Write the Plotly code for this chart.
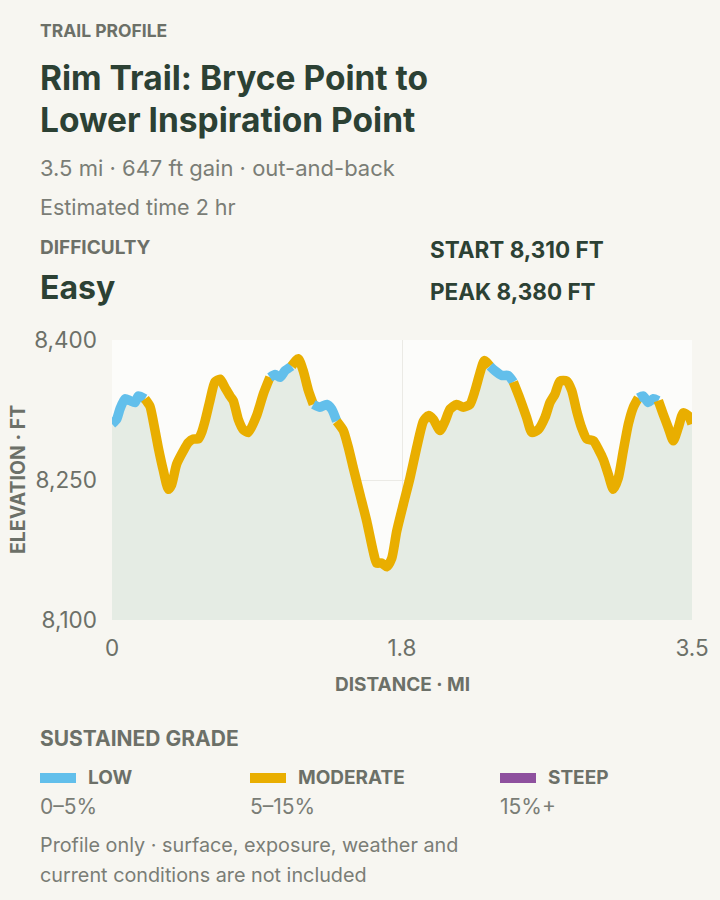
import plotly.graph_objects as go

# ---------------- data ----------------
distance_mi = [0.000, 0.028, 0.048, 0.078, 0.109, 0.139, 0.159, 0.199, 0.229, 0.249,
               0.279, 0.310, 0.340, 0.360, 0.390, 0.430, 0.460, 0.491, 0.521, 0.541,
               0.561, 0.591, 0.621, 0.652, 0.682, 0.712, 0.732, 0.762, 0.792, 0.823,
               0.873, 0.913, 0.953, 0.984, 1.014, 1.044, 1.084, 1.124, 1.154, 1.185,
               1.215, 1.255, 1.296, 1.326, 1.356, 1.396, 1.426, 1.456, 1.497, 1.537,
               1.577, 1.597, 1.627, 1.658, 1.688, 1.718, 1.758, 1.798, 1.839, 1.879,
               1.909, 1.939, 1.979, 2.010, 2.040, 2.080, 2.120, 2.160, 2.191, 2.221,
               2.247, 2.281, 2.311, 2.352, 2.391, 2.422, 2.462, 2.502, 2.533, 2.573,
               2.613, 2.643, 2.673, 2.703, 2.744, 2.774, 2.804, 2.834, 2.865, 2.905,
               2.935, 2.965, 2.995, 3.025, 3.055, 3.085, 3.116, 3.146, 3.176, 3.206,
               3.236, 3.266, 3.297, 3.327, 3.357, 3.387, 3.417, 3.447, 3.478, 3.500]
elevation_ft = [8310, 8315, 8326, 8337, 8335, 8333, 8340, 8337, 8329, 8313,
                8285, 8260, 8240, 8245, 8267, 8281, 8290, 8294, 8294, 8301,
                8313, 8335, 8355, 8358, 8349, 8340, 8335, 8315, 8304, 8301,
                8319, 8342, 8360, 8363, 8360, 8367, 8372, 8380, 8367, 8346,
                8331, 8328, 8331, 8326, 8313, 8303, 8285, 8263, 8234, 8206,
                8173, 8161, 8161, 8157, 8166, 8195, 8224, 8252, 8285, 8313,
                8319, 8315, 8303, 8313, 8326, 8331, 8328, 8331, 8346, 8365,
                8378, 8372, 8367, 8362, 8362, 8355, 8337, 8317, 8301, 8304,
                8317, 8333, 8342, 8356, 8356, 8346, 8324, 8306, 8294, 8292,
                8283, 8272, 8256, 8240, 8252, 8281, 8310, 8328, 8338, 8340,
                8333, 8337, 8335, 8320, 8306, 8292, 8306, 8322, 8319, 8310]
low_grade_ranges_mi = [(0.0, 0.20), (0.966, 1.086), (1.225, 1.346), (2.293, 2.420), (3.186, 3.294)]

y_tickvals = [8100, 8250, 8400]
x_tickvals = [0, 1.75, 3.5]
x_ticktext = ["0", "1.8", "3.5"]

grade_names = ["LOW", "MODERATE", "STEEP"]
grade_ranges = ["0–5%", "5–15%", "15%+"]
grade_colors = ["#62bfeb", "#e9ae00", "#8e509e"]

# ---------------- style ----------------
FONT = "Inter, 'Noto Sans', sans-serif"
DARK = "#2c4134"
GRAY = "#6c7068"
LIGHTGRAY = "#7a7d76"
PAGE_BG = "#f7f6f1"
PLOT_BG = "#fcfcfa"
FILL = "#e5ece4"

W, H = 720, 900
L, R, T, B = 112, 692, 340, 620


def px(xp):
    return (xp - L) / (R - L)


def py(yp):
    return (B - yp) / (B - T)


fig = go.Figure()

# area under the profile
fig.add_trace(go.Scatter(x=distance_mi, y=elevation_ft, mode="lines",
                         line=dict(width=0), fill="tozeroy", fillcolor=FILL,
                         hoverinfo="skip", showlegend=False))


def is_low(d):
    return any(a <= d <= b for a, b in low_grade_ranges_mi)


# split the line into runs coloured by sustained grade
runs = []
cur_cls, cur_x, cur_y = None, [], []
for i in range(len(distance_mi) - 1):
    mid = (distance_mi[i] + distance_mi[i + 1]) / 2
    cls = 0 if is_low(mid) else 1
    if cls != cur_cls:
        if cur_cls is not None:
            runs.append((cur_cls, cur_x, cur_y))
        cur_cls, cur_x, cur_y = cls, [distance_mi[i]], [elevation_ft[i]]
    cur_x.append(distance_mi[i + 1])
    cur_y.append(elevation_ft[i + 1])
runs.append((cur_cls, cur_x, cur_y))

for cls, xs, ys in runs:
    fig.add_trace(go.Scatter(x=xs, y=ys, mode="lines",
                             line=dict(color=grade_colors[cls], width=9.5, shape="spline", smoothing=0.6),
                             hoverinfo="skip", showlegend=False))

ann = []


def text(x, y, s, size, color, bold=False, anchor="left", angle=0):
    ann.append(dict(x=px(x), y=py(y), xref="paper", yref="paper", text=s, showarrow=False,
                    xanchor=anchor, yanchor="middle", textangle=angle,
                    font=dict(family=FONT, size=size, color=color, weight=700 if bold else 400)))


X0 = 38
text(X0, 30, "TRAIL PROFILE", 17.5, GRAY, True)
text(X0, 78, "Rim Trail: Bryce Point to", 33.5, DARK, True)
text(X0, 120, "Lower Inspiration Point", 33.5, DARK, True)
text(X0, 168, "3.5 mi · 647 ft gain · out-and-back", 22, LIGHTGRAY)
text(X0, 207, "Estimated time 2 hr", 21.5, LIGHTGRAY)
text(X0, 247, "DIFFICULTY", 19, GRAY, True)
text(X0, 287, "Easy", 32, DARK, True)
text(428, 249, "START 8,310 FT", 22.5, DARK, True)
text(428, 291, "PEAK 8,380 FT", 22.5, DARK, True)
text(402, 684, "DISTANCE · MI", 19, GRAY, True, anchor="center")
text(18, 480, "ELEVATION · FT", 19.5, GRAY, True, anchor="center", angle=-90)
text(X0, 738, "SUSTAINED GRADE", 21, GRAY, True)

shapes = []
legend_x = [40, 250, 500]
for i, (name, rng, col) in enumerate(zip(grade_names, grade_ranges, grade_colors)):
    x0 = legend_x[i]
    shapes.append(dict(type="rect", xref="paper", yref="paper",
                       x0=px(x0), x1=px(x0 + 36), y0=py(783), y1=py(773),
                       fillcolor=col, line=dict(width=0)))
    text(x0 + 46, 777, name, 19, GRAY, True)
    text(x0 - 2, 806, rng, 21, LIGHTGRAY)

text(X0, 845, "Profile only · surface, exposure, weather and", 19.8, LIGHTGRAY)
text(X0, 875, "current conditions are not included", 19.8, LIGHTGRAY)

fig.update_layout(
    width=W, height=H,
    margin=dict(l=L, r=W - R, t=T, b=H - B, pad=0),
    paper_bgcolor=PAGE_BG, plot_bgcolor=PLOT_BG,
    font=dict(family=FONT, color=GRAY),
    annotations=ann, shapes=shapes,
    showlegend=False,
    xaxis=dict(range=[0, 3.5], tickvals=x_tickvals, ticktext=x_ticktext,
               showgrid=True, gridcolor="#ebeae5", gridwidth=1, zeroline=False,
               showline=False, ticks="", ticklabelstandoff=12,
               tickfont=dict(family=FONT, size=22.5, color=GRAY), fixedrange=True),
    yaxis=dict(range=[8100, 8400], tickvals=y_tickvals, tickformat=",",
               showgrid=True, gridcolor="#ebeae5", gridwidth=1, zeroline=False,
               showline=False, ticks="", ticklabelstandoff=14,
               tickfont=dict(family=FONT, size=22.5, color=GRAY), fixedrange=True),
)

fig.write_html("out.html", config={"displayModeBar": False, "staticPlot": True},
               post_script="document.body.style.margin='0';")
